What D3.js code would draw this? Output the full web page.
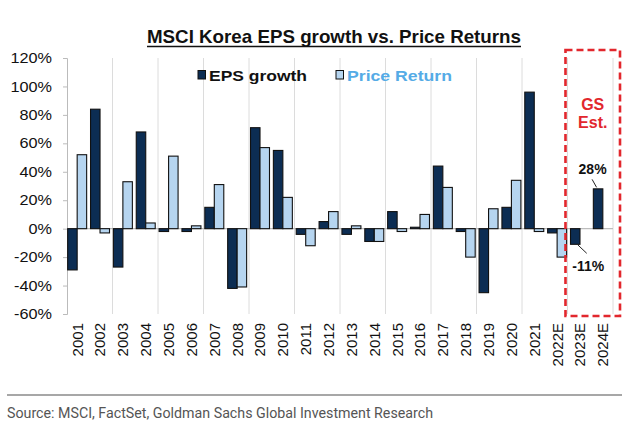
<!DOCTYPE html>
<html><head><meta charset="utf-8">
<script src="https://cdn.jsdelivr.net/npm/d3@7"></script>
<style>body{margin:0;background:#fff} svg{display:block}</style>
</head><body>
<svg id="c" width="630" height="427"></svg>
<script>
const years = ["2001","2002","2003","2004","2005","2006","2007","2008","2009","2010","2011","2012","2013","2014","2015","2016","2017","2018","2019","2020","2021","2022E","2023E","2024E"];
const epsGrowth   = [-29, 84, -27, 68, -2, -2, 15, -42, 71, 55, -4, 5, -4, -9, 12, 1, 44, -2, -45, 15, 96, -3, -11, 28];
const priceReturn = [52, -3, 33, 4, 51, 2, 31, -41, 57, 22, -12, 12, 2, -9, -2, 10, 29, -20, 14, 34, -2, -20, null, null];
const yTicks = [-60, -40, -20, 0, 20, 40, 60, 80, 100, 120];
const seriesNames = ["EPS growth", "Price Return"];
const titleText = "MSCI Korea EPS growth vs. Price Returns";
const sourceText = "Source: MSCI, FactSet, Goldman Sachs Global Investment Research";
const estYears = ["2023E", "2024E"];
const labelYears = ["2023E", "2024E"];
const labelTexts = ["-11%", "28%"];

const NAVY = "#0c2d53", LIGHT = "#b6d5f0", RED = "#e2272d";
const FONT = "'Liberation Sans', Arial, sans-serif";

const svg = d3.select("#c");
const L = 67, R = 613, T = 58, B = 314;

const x = d3.scaleBand().domain(years).range([L, R]).paddingInner(0.17).paddingOuter(0.03);
const y = d3.scaleLinear().domain([-60, 120]).range([B, T]);
const bw = x.bandwidth() / 2;
const idx = d3.scaleLinear().domain([0, years.length]).range([L, R]);

// vertical gridlines every two categories
svg.append("g").selectAll("line").data(d3.range(2, years.length + 1, 2)).join("line")
  .attr("x1", d => idx(d)).attr("x2", d => idx(d))
  .attr("y1", T).attr("y2", B)
  .attr("stroke", "#dcdcdc").attr("stroke-width", 1);

// zero line
svg.append("line").attr("x1", L).attr("x2", R).attr("y1", y(0)).attr("y2", y(0))
  .attr("stroke", "#bdbdbd").attr("stroke-width", 1.2);

// y axis
const ya = svg.append("g").attr("transform", `translate(${L},0)`)
  .call(d3.axisLeft(y).tickValues(yTicks).tickSize(4).tickPadding(11).tickFormat(d => d + "%"));
ya.select(".domain").attr("stroke", "#bbb");
ya.selectAll(".tick line").attr("stroke", "#bbb");
ya.selectAll("text").attr("font-family", FONT).attr("font-size", 14.5).attr("fill", "#111")
  .each(function(){ const n = this.getComputedTextLength(); d3.select(this).attr("textLength", n*1.12).attr("lengthAdjust","spacingAndGlyphs"); });

// x axis labels
const xa = svg.append("g").attr("transform", `translate(0,318)`)
  .call(d3.axisBottom(x).tickSize(0).tickPadding(0));
xa.select(".domain").remove();
xa.selectAll("text").attr("font-family", FONT).attr("font-size", 15).attr("fill", "#111")
  .attr("transform", "rotate(-90)").attr("text-anchor", "end")
  .attr("x", -5).attr("y", 0).attr("dy", "0.36em");

// bars
const rows = years.map((yr, i) => ({yr, eps: epsGrowth[i], pr: priceReturn[i]}));
const barG = svg.append("g").attr("stroke", "#111").attr("stroke-width", 1.1);
barG.selectAll("rect.eps").data(rows).join("rect").attr("class", "eps")
  .attr("x", d => x(d.yr)).attr("width", bw)
  .attr("y", d => y(Math.max(0, d.eps))).attr("height", d => Math.abs(y(d.eps) - y(0)))
  .attr("fill", NAVY);
barG.selectAll("rect.pr").data(rows.filter(d => d.pr !== null)).join("rect").attr("class", "pr")
  .attr("x", d => x(d.yr) + bw).attr("width", bw)
  .attr("y", d => y(Math.max(0, d.pr))).attr("height", d => Math.abs(y(d.pr) - y(0)))
  .attr("fill", LIGHT);

// estimate box
const bx0 = x(estYears[0]) - 5, bx1 = R + 7;
svg.append("rect").attr("x", bx0).attr("y", 50).attr("width", bx1 - bx0).attr("height", 266)
  .attr("fill", "none").attr("stroke", RED).attr("stroke-width", 2.6).attr("stroke-dasharray", "7,4");
const bc = (bx0 + bx1) / 2;
svg.append("text").attr("x", bc).attr("y", 110).attr("text-anchor", "middle")
  .attr("font-family", FONT).attr("font-weight", "bold").attr("font-size", 16).attr("fill", RED).text("GS");
svg.append("text").attr("x", bc).attr("y", 128).attr("text-anchor", "middle")
  .attr("font-family", FONT).attr("font-weight", "bold").attr("font-size", 16).attr("fill", RED).text("Est.");

// value labels with leader lines
labelYears.forEach((yr, k) => {
  const i = years.indexOf(yr);
  const v = epsGrowth[i];
  const cx = x(yr) + bw / 2;
  if (v >= 0) {
    const ty = y(v);
    svg.append("line").attr("x1", cx - 6).attr("y1", ty - 9.5).attr("x2", cx - 1.5).attr("y2", ty - 1.5)
      .attr("stroke", "#222").attr("stroke-width", 1);
    svg.append("text").attr("x", cx - 5.5).attr("y", ty - 15).attr("text-anchor", "middle")
      .attr("font-family", FONT).attr("font-weight", "bold").attr("font-size", 14).attr("fill", "#111").text(labelTexts[k]);
  } else {
    const by = y(v);
    svg.append("line").attr("x1", cx + 2.5).attr("y1", by + 0.5).attr("x2", cx + 11.5).attr("y2", by + 9)
      .attr("stroke", "#222").attr("stroke-width", 1);
    svg.append("text").attr("x", cx + 13).attr("y", by + 26.5).attr("text-anchor", "middle")
      .attr("font-family", FONT).attr("font-weight", "bold").attr("font-size", 14).attr("fill", "#111").text(labelTexts[k]);
  }
});

// legend
const lg = [{name: seriesNames[0], fill: NAVY, color: "#111", x: 198, len: 98},
            {name: seriesNames[1], fill: LIGHT, color: "#55abe6", x: 336, len: 105}];
lg.forEach(d => {
  svg.append("rect").attr("x", d.x).attr("y", 70.5).attr("width", 7.5).attr("height", 8.5)
    .attr("fill", d.fill).attr("stroke", "#111").attr("stroke-width", 1);
  svg.append("text").attr("x", d.x + 11).attr("y", 81).attr("font-family", FONT).attr("font-weight", "bold")
    .attr("font-size", 15.5).attr("fill", d.color).attr("textLength", d.len).attr("lengthAdjust", "spacingAndGlyphs").text(d.name);
});

// title
svg.append("text").attr("x", 147).attr("y", 43).attr("font-family", FONT).attr("font-weight", "bold")
  .attr("font-size", 18.5).attr("fill", "#111").attr("textLength", 374).attr("lengthAdjust", "spacingAndGlyphs").text(titleText);
svg.append("line").attr("x1", 147).attr("x2", 521).attr("y1", 46.5).attr("y2", 46.5).attr("stroke", "#111").attr("stroke-width", 1.6);

// source
svg.append("line").attr("x1", 7).attr("x2", 622).attr("y1", 395).attr("y2", 395).attr("stroke", "#8a8a8a").attr("stroke-width", 1.3);
svg.append("text").attr("x", 7).attr("y", 418).attr("font-family", "'Liberation Sans Narrow', 'Roboto', sans-serif")
  .attr("font-size", 14.5).attr("fill", "#555").attr("textLength", 426).attr("lengthAdjust", "spacingAndGlyphs").text(sourceText);
</script>
</body></html>
